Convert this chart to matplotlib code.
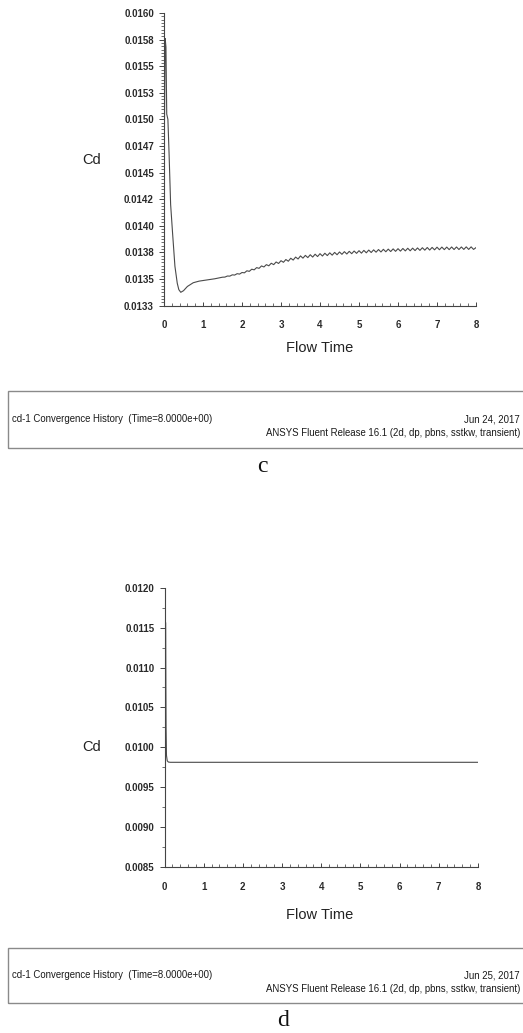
import matplotlib
matplotlib.use("Agg")
import matplotlib.pyplot as plt
from matplotlib.patches import Rectangle
from matplotlib.ticker import MultipleLocator

plt.rcParams['font.family'] = ['Liberation Sans', 'DejaVu Sans']

W, H = 523, 1033

# panel c : cd-1 history, Jun 24 run
c_time = [0.0, 0.01, 0.03, 0.05, 0.07, 0.10, 0.13, 0.17, 0.22, 0.28, 0.34, 0.38, 0.43,
          0.50, 0.60, 0.75, 0.90, 1.08, 1.30,
          1.5, 1.5625, 1.625, 1.6875, 1.75, 1.8125, 1.875, 1.9375,
          2.0, 2.0625, 2.125, 2.1875, 2.25, 2.3125, 2.375, 2.4375,
          2.5, 2.5625, 2.625, 2.6875, 2.75, 2.8125, 2.875, 2.9375,
          3.0, 3.0625, 3.125, 3.1875, 3.25, 3.3125, 3.375, 3.4375,
          3.5, 3.5625, 3.625, 3.6875, 3.75, 3.8125, 3.875, 3.9375,
          4.0, 4.0625, 4.125, 4.1875, 4.25, 4.3125, 4.375, 4.4375,
          4.5, 4.5625, 4.625, 4.6875, 4.75, 4.8125, 4.875, 4.9375,
          5.0, 5.0625, 5.125, 5.1875, 5.25, 5.3125, 5.375, 5.4375,
          5.5, 5.5625, 5.625, 5.6875, 5.75, 5.8125, 5.875, 5.9375,
          6.0, 6.0625, 6.125, 6.1875, 6.25, 6.3125, 6.375, 6.4375,
          6.5, 6.5625, 6.625, 6.6875, 6.75, 6.8125, 6.875, 6.9375,
          7.0, 7.0625, 7.125, 7.1875, 7.25, 7.3125, 7.375, 7.4375,
          7.5, 7.5625, 7.625, 7.6875, 7.75, 7.8125, 7.875, 7.9375, 8.0]
c_cd = [0.01500, 0.01490, 0.01576, 0.01568, 0.01505, 0.01500, 0.01468, 0.01420, 0.01393,
        0.01362, 0.01346, 0.01340, 0.013375,
        0.013390, 0.013430, 0.013465, 0.013480, 0.013490, 0.013502,
        0.013517, 0.013518, 0.013528, 0.013527, 0.013539, 0.013537, 0.013550, 0.013546,
        0.013561, 0.013558, 0.013577, 0.013572, 0.013592, 0.013586, 0.013607, 0.013600,
        0.013623, 0.013613, 0.013635, 0.013624, 0.013648, 0.013635, 0.013660, 0.013646,
        0.013672, 0.013657, 0.013683, 0.013667, 0.013695, 0.013678, 0.013706, 0.013688,
        0.013717, 0.013696, 0.013722, 0.013701, 0.013728, 0.013706, 0.013733, 0.013711,
        0.013738, 0.013716, 0.013742, 0.013720, 0.013746, 0.013724, 0.013750, 0.013728,
        0.013754, 0.013732, 0.013757, 0.013735, 0.013760, 0.013738, 0.013763, 0.013741,
        0.013766, 0.013743, 0.013769, 0.013746, 0.013772, 0.013749, 0.013774, 0.013752,
        0.013777, 0.013754, 0.013779, 0.013756, 0.013781, 0.013758, 0.013783, 0.013760,
        0.013785, 0.013762, 0.013787, 0.013764, 0.013789, 0.013765, 0.013790, 0.013767,
        0.013792, 0.013769, 0.013794, 0.013771, 0.013796, 0.013772, 0.013797, 0.013774,
        0.013799, 0.013775, 0.013800, 0.013776, 0.013800, 0.013776, 0.013801, 0.013777,
        0.013801, 0.013777, 0.013801, 0.013778, 0.013802, 0.013778, 0.013802, 0.013778, 0.013795]
c_yticks = [0.01325, 0.0135, 0.01375, 0.014, 0.01425, 0.0145, 0.01475, 0.015,
            0.01525, 0.0155, 0.01575, 0.016]
c_ylabels = ["0.0133", "0.0135", "0.0138", "0.0140", "0.0142", "0.0145", "0.0147",
             "0.0150", "0.0153", "0.0155", "0.0158", "0.0160"]

# panel d : cd-1 history, Jun 25 run
d_time = [0.03, 0.035, 0.04, 0.05, 0.07, 0.10, 0.15, 8.0]
d_cd = [0.011558, 0.01080, 0.010257, 0.00990, 0.00983, 0.009815, 0.009812, 0.009812]
d_yticks = [0.0085, 0.009, 0.0095, 0.01, 0.0105, 0.011, 0.0115, 0.012]
d_ylabels = ["0.0085", "0.0090", "0.0095", "0.0100", "0.0105", "0.0110", "0.0115", "0.0120"]

x_ticks = [0, 1, 2, 3, 4, 5, 6, 7, 8]
x_labels = ["0", "1", "2", "3", "4", "5", "6", "7", "8"]

footer_left = "cd-1 Convergence History  (Time=8.0000e+00)"
footer_right = "ANSYS Fluent Release 16.1 (2d, dp, pbns, sstkw, transient)"

fig = plt.figure(figsize=(W / 100, H / 100), dpi=100)


def fx(x):
    return x / W


def fy(y):
    return 1 - y / H


def panel(left, right, top, bottom, t, cd, yticks, ylabels, yminor,
          cd_y, flow_y, box_top, box_bot, date, letter, letter_x, letter_y):
    ax = fig.add_axes([fx(left), fy(bottom), fx(right) - fx(left), fy(top) - fy(bottom)])
    ax.plot(t, cd, color="#4a4a4a", lw=0.8)
    ax.set_xlim(0, 8)
    ax.set_ylim(yticks[0], yticks[-1])
    ax.set_xticks(x_ticks, x_labels, fontweight="bold")
    ax.set_yticks(yticks, ylabels, fontweight="bold")
    ax.xaxis.set_minor_locator(MultipleLocator(0.2))
    ax.yaxis.set_minor_locator(MultipleLocator(yminor))
    for s in ["top", "right"]:
        ax.spines[s].set_visible(False)
    for s in ["left", "bottom"]:
        ax.spines[s].set_color("#444444")
        ax.spines[s].set_linewidth(0.8)
    ax.tick_params(axis="y", which="major", direction="out", length=3.6, width=0.7,
                   color="#444444", labelsize=7, pad=3.6, labelcolor="#2a2a2a")
    ax.tick_params(axis="y", which="minor", direction="out", length=2, width=0.6,
                   color="#555555")
    ax.tick_params(axis="x", which="major", direction="in", length=3, width=0.7,
                   color="#444444", labelsize=7, pad=10.5, labelcolor="#2a2a2a")
    ax.tick_params(axis="x", which="minor", direction="in", length=2, width=0.6,
                   color="#555555")
    fig.text(fx(91.5), fy(cd_y), "Cd", fontsize=10.5, ha="center", va="center", color="#222222")
    fig.text(fx(320), fy(flow_y), "Flow Time", fontsize=10.5, ha="center", va="center",
             color="#222222")
    fig.patches.append(Rectangle((fx(8), fy(box_bot)), fx(530) - fx(8), fy(box_top) - fy(box_bot),
                                 transform=fig.transFigure, fill=False, ec="#8a8a8a", lw=1.0))
    mid = (box_top + box_bot) / 2
    fig.text(fx(12.5), fy(mid - 0.5), footer_left, fontsize=6.9, ha="left", va="center",
             color="#1a1a1a")
    fig.text(fx(520), fy(mid - 0.5), date, fontsize=6.9, ha="right", va="center", color="#1a1a1a")
    fig.text(fx(520), fy(mid + 13.5), footer_right, fontsize=6.9, ha="right", va="center",
             color="#1a1a1a")
    fig.text(fx(letter_x), fy(letter_y), letter, fontsize=17, ha="center", va="center",
             family="Liberation Serif", color="#111111")
    return ax


panel(164, 476, 13, 305.6, c_time, c_cd, c_yticks, c_ylabels, 0.00025 / 8,
      160, 348, 391, 448, "Jun 24, 2017", "c", 262, 467)
panel(164.5, 478, 587.7, 867, d_time, d_cd, d_yticks, d_ylabels, 0.00025,
      747, 915, 948, 1003, "Jun 25, 2017", "d", 283, 1021)

fig.savefig("out.png", dpi=100)
